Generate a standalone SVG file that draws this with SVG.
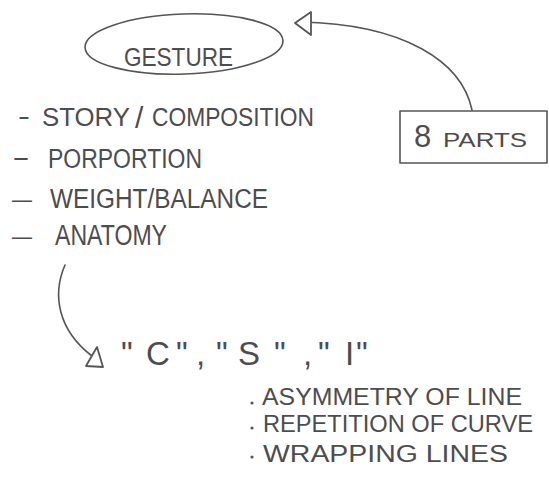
<svg xmlns="http://www.w3.org/2000/svg" width="549" height="479" viewBox="0 0 549 479">
<style>
.t{font-family:"Liberation Sans",Arial,sans-serif;fill:#4d4d4d;}
.s{fill:none;stroke:#555;stroke-width:1.6;stroke-linecap:round;stroke-linejoin:round;}
.h{fill:#fff;stroke:#555;stroke-width:1.8;stroke-linejoin:round;}
</style>
<rect width="549" height="479" fill="#fff"/>
<g id="gesture">
<ellipse class="s" cx="184" cy="44" rx="99" ry="30" transform="rotate(-2 184 44)"/>
<text class="t" x="124" y="66" font-size="25" textLength="109" lengthAdjust="spacingAndGlyphs">GESTURE</text>
</g>
<g id="list">
<g id="item-story">
<text class="t" x="18" y="124" font-size="24" textLength="12" lengthAdjust="spacingAndGlyphs">-</text>
<text class="t" x="42" y="126" font-size="25" textLength="88" lengthAdjust="spacingAndGlyphs">STORY</text>
<text class="t" x="135" y="128" font-size="30">/</text>
<text class="t" x="152" y="126" font-size="25" textLength="162" lengthAdjust="spacingAndGlyphs">COMPOSITION</text>
</g>
<g id="item-proportion">
<text class="t" x="12" y="165" font-size="24" textLength="18" lengthAdjust="spacingAndGlyphs">-</text>
<text class="t" x="48" y="168" font-size="27" textLength="154" lengthAdjust="spacingAndGlyphs">PORPORTION</text>
</g>
<g id="item-weight">
<text class="t" x="12" y="207" font-size="24" textLength="20" lengthAdjust="spacingAndGlyphs">—</text>
<text class="t" x="50" y="208" font-size="27" textLength="218" lengthAdjust="spacingAndGlyphs">WEIGHT/BALANCE</text>
</g>
<g id="item-anatomy">
<text class="t" x="12" y="244" font-size="24" textLength="20" lengthAdjust="spacingAndGlyphs">—</text>
<text class="t" x="55" y="245" font-size="30" textLength="112" lengthAdjust="spacingAndGlyphs">ANATOMY</text>
</g>
</g>
<g id="parts">
<rect class="s" x="400" y="111" width="147" height="52"/>
<text class="t" x="414" y="147" font-size="31">8</text>
<text class="t" x="443" y="147" font-size="21" textLength="84" lengthAdjust="spacingAndGlyphs">PARTS</text>
</g>
<g id="shapes">
<text class="t" y="365" font-size="33"><tspan x="121">"</tspan><tspan x="146">C</tspan><tspan x="176">"</tspan><tspan x="196">,</tspan><tspan x="216">"</tspan><tspan x="238">S</tspan><tspan x="274">"</tspan><tspan x="303">,</tspan><tspan x="318">"</tspan><tspan x="345">I</tspan><tspan x="356">"</tspan></text>
</g>
<g id="qualities">
<circle cx="252" cy="403" r="1.6" fill="#555"/>
<text class="t" x="262" y="405" font-size="23" textLength="260" lengthAdjust="spacingAndGlyphs">ASYMMETRY OF LINE</text>
<circle cx="252" cy="428" r="1.6" fill="#555"/>
<text class="t" x="263" y="432" font-size="23" textLength="270" lengthAdjust="spacingAndGlyphs">REPETITION OF CURVE</text>
<circle cx="252" cy="457" r="1.6" fill="#555"/>
<text class="t" x="263" y="462" font-size="23" textLength="245" lengthAdjust="spacingAndGlyphs">WRAPPING LINES</text>
</g>
<g id="connectors">
<path class="s" d="M472,110 C462,62 405,24 300,22"/>
<polygon class="h" points="295,23 311,12 311,35"/>
<path class="s" d="M65,265 C52,295 58,330 92,356"/>
<polygon class="h" points="97,347 86,366 103,367"/>
</g>
</svg>
